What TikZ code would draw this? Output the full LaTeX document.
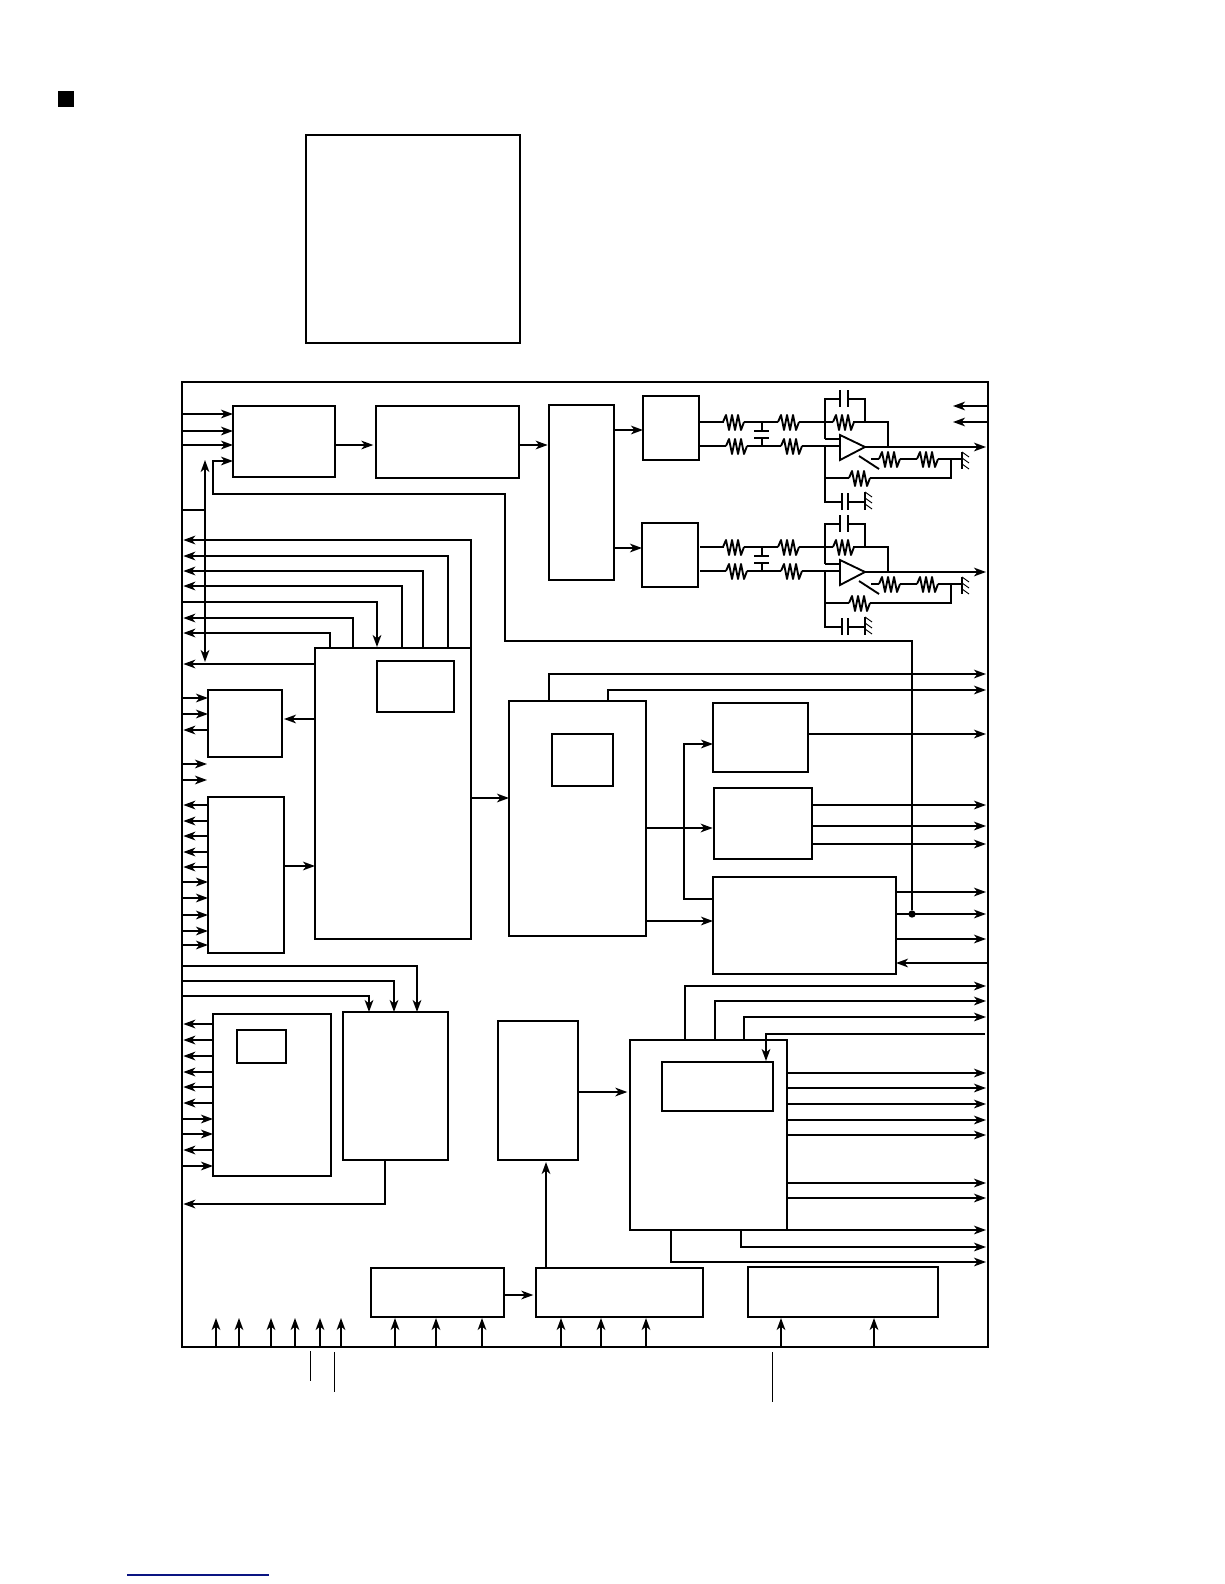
\documentclass[tikz,border=0pt]{standalone}
\usetikzlibrary{arrows.meta,calc}
\definecolor{navyline}{RGB}{10,20,130}
\tikzset{
  x=0.75pt,y=-0.75pt,
  wire/.style={line width=1.4pt,line cap=butt,line join=miter},
  arr/.style={wire,-{Stealth[length=9pt,width=6.5pt,inset=2.6pt]}},
  arrb/.style={wire,{Stealth[length=9pt,width=6.5pt,inset=2.6pt]}-{Stealth[length=9pt,width=6.5pt,inset=2.6pt]}},
  thinwire/.style={line width=0.7pt},
  blockbox/.style={draw,line width=1.4pt,rectangle,inner sep=0pt,outer sep=0pt,anchor=north west},
  dotnode/.style={circle,fill,inner sep=0pt,minimum size=5.5pt,outer sep=0pt},
}
\newcommand{\bx}[5]{\node[blockbox,minimum width={(#4-#2)*0.75pt},minimum height={(#5-#3)*0.75pt}] (#1) at (#2,#3) {};}
% arrows between the frame and a box, at height y
\newcommand{\fin}[2]{\draw[arr] (frame.west |- 0,#2) -- (#1.west |- 0,#2);}
\newcommand{\fout}[2]{\draw[arr] (#1.west |- 0,#2) -- ([xshift=1pt]frame.west |- 0,#2);}
\newcommand{\toR}[2]{\draw[arr] (#1.east |- 0,#2) -- ([xshift=-1.5pt]frame.east |- 0,#2);}
% resistor: starts at (x,y), 21 px long
\newcommand{\res}[2]{\draw[wire,line join=round] (#1,#2) -- ++(3,-7) -- ++(3,15) -- ++(3,-15) -- ++(3,15) -- ++(3,-15) -- ++(3,15) -- ++(3,-8);}
\newcommand{\gnd}[3]{\draw[wire] (#1,#2) -- (#1,#3);
  \draw[thinwire] (#1,#2) -- ++(7,5) (#1,{#2+6}) -- ++(7,5) (#1,{#2+12}) -- ++(7,5);}
\newcommand{\filter}[2]{%
\begin{scope}[shift={(0,#1)}]
  \draw[wire] (#2,422) -- (724,422) (744,422) -- (778,422) (799,422) -- (833,422) (853,422) -- (888,422) -- (888,447);
  \draw[wire] (#2,446) -- (726,446) (747,446) -- (781,446) (802,446) -- (840,446);
  \res{723}{422}\res{726}{446}\res{778}{422}\res{781}{446}\res{833}{422}
  % coupling capacitor
  \draw[wire] (762,422) -- (762,431) (754,431) -- (769,431) (754,438) -- (769,438) (762,438) -- (762,446);
  % feedback capacitor
  \draw[wire] (825,439) -- (825,399) -- (840,399) (848,399) -- (865,399) -- (865,422);
  \draw[wire] (840,390) -- (840,407) (848,390) -- (848,407);
  \draw[wire] (825,439) -- (840,439);
  % op amp
  \draw[wire,fill=white] (840,435) -- (865,447) -- (840,460) -- cycle;
  \draw[arr] (865,447) -- (986,447);
  % lower network
  \draw[wire] (825,446) -- (825,502) -- (842,502) (848,502) -- (865,502);
  \draw[wire] (842,493) -- (842,510) (848,493) -- (848,510);
  \gnd{865}{492}{510}
  \draw[wire] (825,478) -- (849,478) (870,478) -- (951,478) -- (951,459);
  \res{849}{478}
  % switch and output divider
  \draw[wire] (859,456) -- (879,469);
  \draw[wire] (871,459) -- (879,459) (900,459) -- (917,459) (938,459) -- (962,459);
  \res{879}{459}\res{917}{459}
  \gnd{962}{452}{469}
\end{scope}}
\begin{document}
\begin{tikzpicture}
\useasboundingbox (0,0) rectangle (1224,1584);
\fill[white] (0,0) rectangle (1224,1584);
\node[fill=black,inner sep=0pt,minimum size=12pt,anchor=north west] (mark) at (58,91) {};
\bx{topbox}{306}{135}{520}{343}
\bx{frame}{182}{382}{988}{1347}
\bx{A}{233}{406}{335}{477}
\bx{B}{376}{406}{519}{478}
\bx{R}{549}{405}{614}{580}
\bx{Q}{643}{396}{699}{460}
\bx{S}{642}{523}{698}{587}
\bx{C}{315}{648}{471}{939}
\bx{Cin}{377}{661}{454}{712}
\bx{D}{208}{690}{282}{757}
\bx{E}{208}{797}{284}{953}
\bx{F}{509}{701}{646}{936}
\bx{Fin}{552}{734}{613}{786}
\bx{G}{713}{703}{808}{772}
\bx{H}{714}{788}{812}{859}
\bx{I}{713}{877}{896}{974}
\bx{J}{213}{1014}{331}{1176}
\bx{Jin}{237}{1030}{286}{1063}
\bx{K}{343}{1012}{448}{1160}
\bx{L}{498}{1021}{578}{1160}
\bx{M}{630}{1040}{787}{1230}
\bx{Min}{662}{1062}{773}{1111}
\bx{P}{371}{1268}{504}{1317}
\bx{N}{536}{1268}{703}{1317}
\bx{O}{748}{1267}{938}{1317}
\node[dotnode] (jn) at (912,914) {};
% top chain
\foreach \yy in {414,431,445}{\fin{A}{\yy}}
\draw[arr] (A.east |- 0,445) -- ([xshift=-2pt]B.west |- 0,445);
\draw[arr] (B.east |- 0,445) -- ([xshift=-1pt]R.west |- 0,445);
\draw[arr] (R.east |- 0,430) -- (Q.west |- 0,430);
\draw[arr] (R.east |- 0,548) -- (S.west |- 0,548);
\filter{0}{699}
\filter{125}{700}
\draw[arr] (frame.east |- 0,406) -- (953,406);
\draw[arr] (frame.east |- 0,422) -- (953,422);
% feedback from the junction to A
\draw[arr] (jn) -- (912,641) -- (505,641) -- (505,494) -- (213,494) -- (213,461) -- (A.west |- 0,461);
% bus
\draw[wire] (frame.west |- 0,510) -- (205,510);
\draw[arrb] (205,460) -- (205,662);
% C to the left side
\draw[arr] (C.east |- 0,648) -- (471,540) -- ([xshift=1pt]frame.west |- 0,540);
\draw[arr] (448,648) -- (448,556) -- ([xshift=1pt]frame.west |- 0,556);
\draw[arr] (423,648) -- (423,571) -- ([xshift=1pt]frame.west |- 0,571);
\draw[arr] (402,648) -- (402,586) -- ([xshift=1pt]frame.west |- 0,586);
\draw[arr] (frame.west |- 0,602) -- (377,602) -- (377,647);
\draw[arr] (353,648) -- (353,618) -- ([xshift=1pt]frame.west |- 0,618);
\draw[arr] (330,647) -- (330,633) -- ([xshift=1pt]frame.west |- 0,633);
\fout{C}{664}
% D
\fin{D}{698}\fin{D}{714}\fout{D}{730}
\draw[arr] (C.west |- 0,719) -- ([xshift=1.5pt]D.east |- 0,719);
\draw[arr] (frame.west |- 0,764) -- (207,764);
\draw[arr] (frame.west |- 0,780) -- (207,780);
% E
\foreach \yy in {805,821,836,852,867}{\fout{E}{\yy}}
\foreach \yy in {882,898,915,931,945}{\fin{E}{\yy}}
\draw[arr] (E.east |- 0,866) -- (C.west |- 0,866);
\draw[arr] (C.east |- 0,798) -- (F.west |- 0,798);
% F
\draw[arr] (549,701) -- (549,674) -- ([xshift=-1.5pt]frame.east |- 0,674);
\draw[arr] (608,701) -- (608,690) -- ([xshift=-1.5pt]frame.east |- 0,690);
\draw[arr] (F.east |- 0,828) -- ([xshift=-1pt]H.west |- 0,828);
\draw[arr] (F.east |- 0,921) -- (I.west |- 0,921);
\draw[arr] (I.west |- 0,899) -- (684,899) -- (684,744) -- (G.west |- 0,744);
% G H I outputs
\toR{G}{734}
\toR{H}{805}\toR{H}{826}\toR{H}{844}
\toR{I}{892}\toR{I}{914}\toR{I}{939}
\draw[arr] (frame.east |- 0,963) -- (I.east |- 0,963);
% K, J
\draw[arr] (frame.west |- 0,966) -- (417,966) -- (417,1012);
\draw[arr] (frame.west |- 0,981) -- (394,981) -- (394,1012);
\draw[arr] (frame.west |- 0,996) -- (369,996) -- (369,1012);
\foreach \yy in {1024,1040,1056,1072,1087,1103,1150}{\fout{J}{\yy}}
\foreach \yy in {1119,1134,1166}{\fin{J}{\yy}}
\draw[arr] (385,1160) -- (385,1204) -- ([xshift=1pt]frame.west |- 0,1204);
% L, M
\draw[arr] (L.east |- 0,1092) -- ([xshift=-2pt]M.west |- 0,1092);
\draw[arr] (685,1040) -- (685,986) -- ([xshift=-1.5pt]frame.east |- 0,986);
\draw[arr] (715,1040) -- (715,1001) -- ([xshift=-1.5pt]frame.east |- 0,1001);
\draw[arr] (744,1040) -- (744,1017) -- ([xshift=-1.5pt]frame.east |- 0,1017);
\draw[arr] (985,1034) -- (766,1034) -- (766,1061);
\foreach \yy in {1073,1088,1104,1120,1135,1183,1198,1230}{\toR{M}{\yy}}
\draw[arr] (741,1230) -- (741,1247) -- ([xshift=-1.5pt]frame.east |- 0,1247);
\draw[arr] (671,1230) -- (671,1262) -- ([xshift=-1.5pt]frame.east |- 0,1262);
% bottom
\draw[arr] (P.east |- 0,1295) -- ([xshift=-2pt]N.west |- 0,1295);
\draw[arr] (546,1268) -- (546,1162);
\foreach \xx in {216,239,271,295,320,341}{\draw[arr] (\xx,1347) -- (\xx,1318);}
\foreach \xx in {395,436,482}{\draw[arr] (\xx,1347) -- (\xx,1318);}
\foreach \xx in {561,601,646}{\draw[arr] (\xx,1347) -- (\xx,1318);}
\foreach \xx in {781,874}{\draw[arr] (\xx,1347) -- (\xx,1318);}
% thin lead lines
\draw[thinwire] (310,1351) -- (310,1381);
\draw[thinwire] (334,1352) -- (334,1392);
\draw[thinwire] (772,1352) -- (772,1402);
\draw[line width=0.9pt,navyline] (127,1575) -- (269,1575);
\end{tikzpicture}
\end{document}
